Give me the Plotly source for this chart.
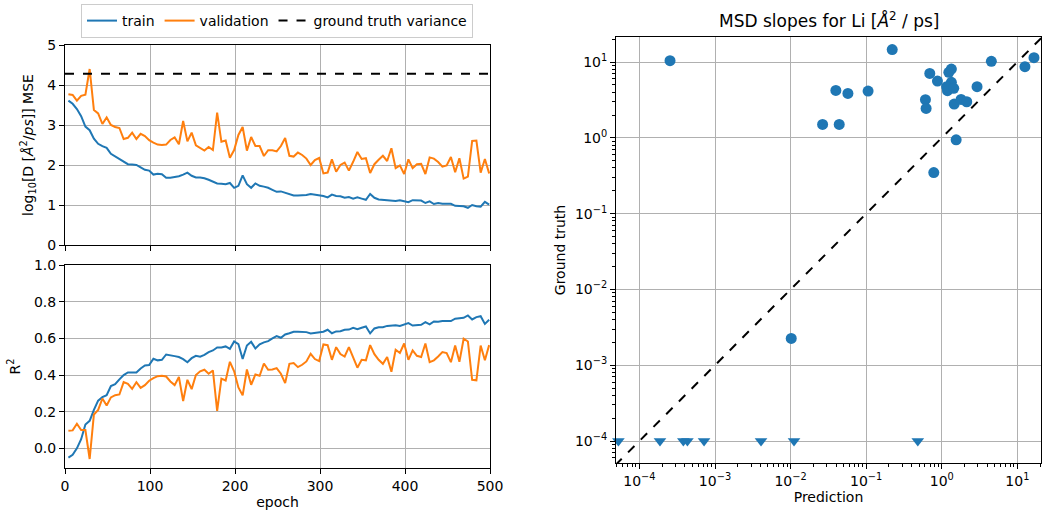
import plotly.graph_objects as go

# ---------------- data ----------------
epochs = list(range(4, 500, 5))

train_mse = [3.61, 3.53, 3.40, 3.22, 2.96, 2.87, 2.66, 2.53, 2.47, 2.43,
             2.28, 2.21, 2.14, 2.07, 2.02, 2.01, 2.00, 1.94, 1.88, 1.86,
             1.76, 1.78, 1.77, 1.68, 1.68, 1.70, 1.72, 1.76, 1.81, 1.73,
             1.69, 1.69, 1.67, 1.63, 1.59, 1.54, 1.53, 1.52, 1.55, 1.43,
             1.48, 1.74, 1.52, 1.43, 1.54, 1.48, 1.46, 1.43, 1.38, 1.33,
             1.34, 1.30, 1.26, 1.24, 1.24, 1.24, 1.25, 1.275, 1.26, 1.25,
             1.225, 1.19, 1.26, 1.225, 1.22, 1.18, 1.20, 1.16, 1.19, 1.16,
             1.13, 1.275, 1.18, 1.14, 1.13, 1.13, 1.12, 1.10, 1.12, 1.10,
             1.07, 1.12, 1.12, 1.11, 1.05, 1.09, 1.025, 1.05, 1.03, 1.03,
             1.03, 0.98, 0.98, 0.97, 0.93, 1.00, 0.97, 0.96, 1.08, 1.01]

val_mse = [3.77, 3.75, 3.61, 3.73, 3.76, 4.40, 3.375, 3.29, 3.025, 3.19,
           3.00, 2.95, 2.925, 2.65, 2.68, 2.81, 2.65, 2.78, 2.725, 2.62,
           2.56, 2.51, 2.50, 2.51, 2.625, 2.69, 2.52, 3.10, 2.59, 2.81,
           2.49, 2.42, 2.36, 2.45, 2.375, 3.31, 2.58, 2.61, 2.18, 2.375,
           2.75, 2.95, 2.36, 2.70, 2.475, 2.475, 2.225, 2.37, 2.37, 2.34,
           2.475, 2.675, 2.23, 2.21, 2.31, 2.25, 2.16, 2.00, 2.125, 2.175,
           1.79, 1.81, 2.14, 1.83, 2.00, 2.06, 1.86, 2.08, 2.325, 2.15,
           2.17, 1.80, 2.02, 2.13, 2.23, 2.10, 2.42, 1.92, 1.99, 1.775,
           2.14, 1.92, 2.02, 2.03, 1.775, 2.19, 2.16, 2.075, 1.96, 1.99,
           2.20, 1.82, 2.17, 1.66, 1.71, 2.60, 2.61, 1.81, 2.15, 1.79]

gt_variance = 4.28

train_r2 = [-0.05, -0.035, 0.0, 0.05, 0.13, 0.15, 0.21, 0.26, 0.28, 0.29,
            0.34, 0.35, 0.376, 0.40, 0.414, 0.414, 0.414, 0.436, 0.452, 0.454,
            0.489, 0.48, 0.483, 0.512, 0.509, 0.503, 0.498, 0.487, 0.47, 0.492,
            0.505, 0.50, 0.51, 0.525, 0.534, 0.55, 0.55, 0.556, 0.543, 0.583,
            0.569, 0.487, 0.561, 0.581, 0.545, 0.567, 0.578, 0.585, 0.60, 0.612,
            0.603, 0.621, 0.628, 0.636, 0.636, 0.634, 0.634, 0.627, 0.630, 0.632,
            0.636, 0.647, 0.628, 0.638, 0.639, 0.647, 0.648, 0.658, 0.650, 0.658,
            0.665, 0.627, 0.654, 0.661, 0.661, 0.668, 0.670, 0.672, 0.668, 0.674,
            0.683, 0.670, 0.670, 0.674, 0.688, 0.676, 0.692, 0.690, 0.694, 0.692,
            0.694, 0.707, 0.708, 0.712, 0.725, 0.703, 0.716, 0.721, 0.679, 0.701]

val_r2 = [0.096, 0.098, 0.134, 0.10, 0.10, -0.058, 0.185, 0.21, 0.272, 0.234,
          0.278, 0.29, 0.294, 0.361, 0.352, 0.325, 0.361, 0.33, 0.345, 0.369,
          0.383, 0.394, 0.396, 0.392, 0.365, 0.345, 0.389, 0.258, 0.374, 0.323,
          0.40, 0.42, 0.429, 0.407, 0.425, 0.205, 0.38, 0.37, 0.472, 0.42,
          0.332, 0.289, 0.43, 0.347, 0.403, 0.396, 0.463, 0.429, 0.43, 0.438,
          0.407, 0.356, 0.461, 0.465, 0.443, 0.456, 0.474, 0.516, 0.487, 0.476,
          0.567, 0.563, 0.483, 0.552, 0.514, 0.501, 0.552, 0.498, 0.44, 0.483,
          0.480, 0.563, 0.514, 0.483, 0.461, 0.498, 0.418, 0.538, 0.520, 0.572,
          0.483, 0.534, 0.505, 0.498, 0.572, 0.470, 0.480, 0.501, 0.525, 0.520,
          0.470, 0.561, 0.472, 0.598, 0.583, 0.374, 0.371, 0.561, 0.481, 0.563]

prediction = [2.54e-4, 0.221, 0.0397, 0.0573, 0.106, 0.0265, 0.044, 0.694, 0.877,
              0.608, 0.621, 0.784, 1.55, 1.34, 1.24, 1.34, 1.19, 1.16, 1.44, 1.46,
              1.80, 2.14, 2.93, 4.53, 12.6, 16.6, 0.0102]
ground_truth = [10.4, 14.6, 4.22, 3.85, 4.14, 1.50, 1.50, 7.08, 5.61,
                3.18, 2.44, 0.348, 0.94, 8.08, 7.30, 5.39, 4.18, 4.72, 4.49, 2.79,
                3.21, 2.99, 4.72, 10.2, 8.68, 11.4, 2.26e-3]

prediction_zero_truth = [5.27e-5, 1.87e-4, 3.81e-4, 4.31e-4, 7.16e-4, 4.06e-3, 0.0111, 0.482]
zero_truth_floor = [1e-4] * len(prediction_zero_truth)

diag = [1e-6, 1e3]

# ---------------- styling ----------------
BLUE = "#1f77b4"
ORANGE = "#ff7f0e"
FONT = "DejaVu Sans"
FS = 14
W, H = 1042, 512


def dom_x(a, b):
    return [a / W, b / W]


def dom_y(top, bottom):
    return [1 - bottom / H, 1 - top / H]


axis_common = dict(showline=True, linecolor="black", linewidth=1, mirror=True,
                   ticks="outside", ticklen=5, tickwidth=1, tickcolor="black",
                   showgrid=True, gridcolor="#b0b0b0", gridwidth=1, zeroline=False,
                   automargin=False,
                   tickfont=dict(family=FONT, size=FS, color="black"))

fig = go.Figure()

# top-left: MSE
fig.add_trace(go.Scatter(x=epochs, y=train_mse, mode="lines", name="train",
                         line=dict(color=BLUE, width=2), xaxis="x", yaxis="y"))
fig.add_trace(go.Scatter(x=epochs, y=val_mse, mode="lines", name="validation",
                         line=dict(color=ORANGE, width=2), xaxis="x", yaxis="y"))
fig.add_trace(go.Scatter(x=[0, 500], y=[gt_variance, gt_variance], mode="lines",
                         name="ground truth variance",
                         line=dict(color="black", width=2, dash="dash"), xaxis="x", yaxis="y"))

# bottom-left: R2
fig.add_trace(go.Scatter(x=epochs, y=train_r2, mode="lines", showlegend=False,
                         line=dict(color=BLUE, width=2), xaxis="x2", yaxis="y2"))
fig.add_trace(go.Scatter(x=epochs, y=val_r2, mode="lines", showlegend=False,
                         line=dict(color=ORANGE, width=2), xaxis="x2", yaxis="y2"))

# right: scatter
fig.add_trace(go.Scatter(x=diag, y=diag, mode="lines", showlegend=False,
                         line=dict(color="black", width=2, dash="dash"), xaxis="x3", yaxis="y3"))
fig.add_trace(go.Scatter(x=prediction, y=ground_truth, mode="markers", showlegend=False,
                         marker=dict(color=BLUE, size=11, line=dict(width=0)),
                         xaxis="x3", yaxis="y3"))
fig.add_trace(go.Scatter(x=prediction_zero_truth, y=zero_truth_floor, mode="markers",
                         showlegend=False, cliponaxis=False,
                         marker=dict(color=BLUE, size=11, symbol="triangle-down", line=dict(width=0)),
                         xaxis="x3", yaxis="y3"))

decades = [-4, -3, -2, -1, 0, 1]
log_vals = [10.0 ** d for d in decades]
log_text = ["10<sup>\u2212%d</sup>" % (-d) if d < 0 else "10<sup>%d</sup>" % d for d in decades]
minor_vals = [m * 10.0 ** d for d in range(-5, 2) for m in range(2, 10)]

fig.update_layout(
    width=W, height=H,
    margin=dict(l=0, r=0, t=0, b=0, autoexpand=False),
    paper_bgcolor="white", plot_bgcolor="white",
    font=dict(family=FONT, size=FS, color="black"),
    showlegend=True,
    legend=dict(orientation="h", x=277 / W, y=1 - 4 / H, xanchor="center", yanchor="top",
                bordercolor="#cccccc", borderwidth=1, bgcolor="white",
                font=dict(family=FONT, size=FS, color="black"), itemwidth=30),
    xaxis=dict(axis_common, domain=dom_x(65, 490), anchor="y", range=[0, 500],
               tickvals=[0, 100, 200, 300, 400, 500], showticklabels=False),
    yaxis=dict(axis_common, domain=dom_y(45, 245), anchor="x", range=[0, 5],
               tickvals=[0, 1, 2, 3, 4, 5],
               title=dict(text="log<sub>10</sub>[D [<i>Å</i><sup>2</sup>/<i>ps</i>]] MSE",
                          font=dict(size=FS), standoff=10)),
    xaxis2=dict(axis_common, domain=dom_x(65, 490), anchor="y2", range=[0, 500],
                tickvals=[0, 100, 200, 300, 400, 500],
                title=dict(text="epoch", font=dict(size=FS), standoff=4)),
    yaxis2=dict(axis_common, domain=dom_y(265, 468), anchor="x2", range=[-0.107, 1.0],
                tickvals=[0, 0.2, 0.4, 0.6, 0.8, 1.0], tickformat=".1f",
                title=dict(text="R<sup>2</sup>", font=dict(size=FS), standoff=10)),
    xaxis3=dict(axis_common, type="log", domain=dom_x(616, 1041), anchor="y3",
                range=[-4.31, 1.313], tickmode="array", tickvals=log_vals, ticktext=log_text,
                minor=dict(ticks="outside", ticklen=3, tickcolor="black", showgrid=False,
                           tickmode="array", tickvals=minor_vals),
                title=dict(text="Prediction", font=dict(size=FS), standoff=4)),
    yaxis3=dict(axis_common, type="log", domain=dom_y(37, 463), anchor="x3",
                range=[-4.29, 1.33], tickmode="array", tickvals=log_vals, ticktext=log_text,
                minor=dict(ticks="outside", ticklen=3, tickcolor="black", showgrid=False,
                           tickmode="array", tickvals=minor_vals),
                title=dict(text="Ground truth", font=dict(size=FS), standoff=6)),
    annotations=[dict(text="MSD slopes for Li [<i>Å</i><sup>2</sup> / ps]", xref="paper", yref="paper",
                      x=829 / W, y=1 - 20 / H, xanchor="center", yanchor="middle", showarrow=False,
                      font=dict(family=FONT, size=17, color="black"))],
)

fig.write_html("out.html", config={"displayModeBar": False},
               post_script="document.body.style.margin='0px';document.body.style.padding='0px';")
